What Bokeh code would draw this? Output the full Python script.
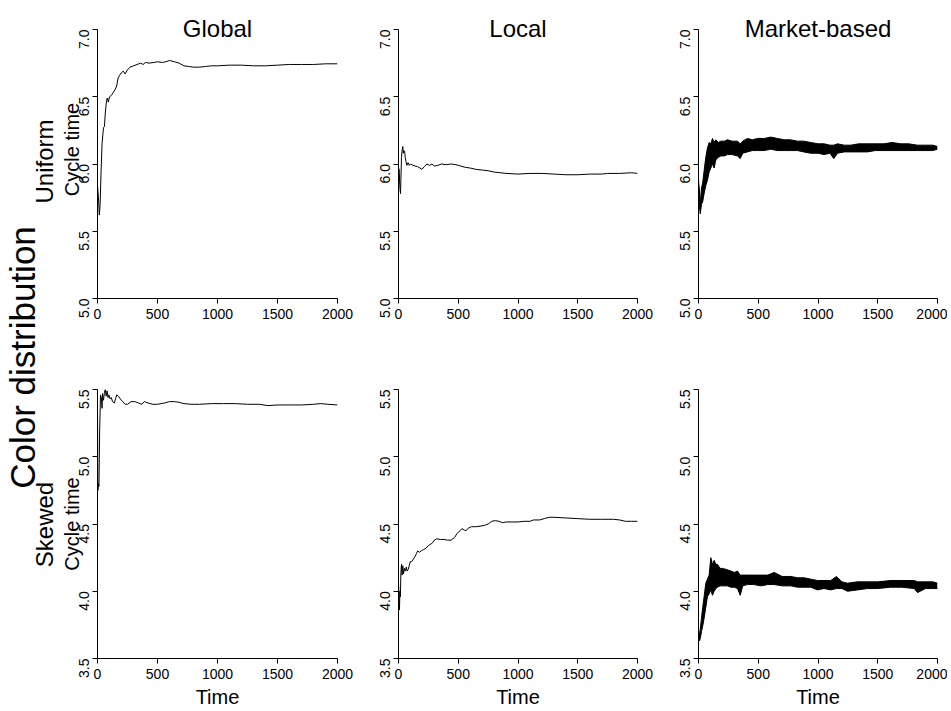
import math
from bokeh.plotting import figure
from bokeh.models import Range1d, FixedTicker, NumeralTickFormatter
from bokeh.layouts import row, column
from bokeh.core.properties import value
from bokeh.embed import file_html
from bokeh.resources import INLINE

FONT = "Liberation Sans"

col_titles = ["Global", "Local", "Market-based"]
row_titles = ["Uniform", "Skewed"]
outer_title = "Color distribution"
y_label = "Cycle time"
x_label = "Time"
x_ticks = [0, 500, 1000, 1500, 2000]
y_ticks_top = [5.0, 5.5, 6.0, 6.5, 7.0]
y_ticks_bottom = [3.5, 4.0, 4.5, 5.0, 5.5]

# Global / Uniform
gu_t = [0, 8, 15, 22, 30, 38, 45, 50, 58, 65, 75, 82, 90, 100, 115, 130, 145, 160, 172, 185,
        200, 215, 230, 250, 270, 300, 330, 360, 380, 400, 430, 470, 500, 540, 570, 600, 640,
        680, 720, 760, 800, 850, 900, 950, 1000, 1100, 1200, 1300, 1400, 1500, 1600, 1700,
        1800, 1900, 2000]
gu_v = [5.84, 5.75, 5.62, 5.70, 5.95, 6.15, 6.22, 6.27, 6.28, 6.38, 6.47, 6.49, 6.46, 6.50,
        6.51, 6.53, 6.55, 6.58, 6.64, 6.66, 6.68, 6.69, 6.67, 6.70, 6.72, 6.73, 6.74, 6.75,
        6.74, 6.755, 6.75, 6.755, 6.76, 6.755, 6.76, 6.77, 6.76, 6.75, 6.73, 6.725, 6.72,
        6.72, 6.725, 6.73, 6.73, 6.735, 6.735, 6.73, 6.73, 6.735, 6.74, 6.74, 6.74, 6.745,
        6.745]

# Global / Skewed
gs_t = [0, 3, 8, 12, 18, 25, 32, 38, 42, 50, 58, 65, 72, 80, 88, 95, 105, 115, 125, 140,
        150, 160, 175, 190, 210, 230, 250, 280, 310, 340, 370, 390, 420, 460, 500, 530, 560,
        600, 640, 680, 720, 780, 850, 950, 1050, 1150, 1250, 1350, 1420, 1500, 1600, 1700,
        1800, 1860, 1920, 2000]
gs_v = [5.35, 4.75, 4.80, 4.78, 5.20, 5.46, 5.44, 5.36, 5.47, 5.42, 5.48, 5.50, 5.45, 5.49,
        5.44, 5.46, 5.43, 5.44, 5.41, 5.40, 5.43, 5.46, 5.45, 5.43, 5.41, 5.39, 5.39, 5.41,
        5.41, 5.40, 5.39, 5.41, 5.40, 5.39, 5.39, 5.395, 5.40, 5.41, 5.41, 5.405, 5.395,
        5.39, 5.39, 5.395, 5.395, 5.395, 5.39, 5.39, 5.38, 5.385, 5.385, 5.385, 5.39,
        5.395, 5.39, 5.385]

# Local / Uniform
lu_t = [0, 6, 10, 14, 17, 20, 25, 30, 36, 40, 46, 52, 56, 62, 70, 80, 90, 100, 120, 140,
        160, 180, 196, 215, 238, 260, 280, 300, 330, 360, 400, 440, 480, 520, 560, 600, 650,
        700, 750, 800, 850, 900, 1000, 1100, 1200, 1300, 1400, 1500, 1600, 1700, 1750, 1850,
        1950, 2000]
lu_v = [5.97, 5.96, 5.85, 5.80, 5.78, 5.88, 6.05, 6.10, 6.13, 6.08, 6.10, 6.09, 6.05, 6.02,
        5.99, 6.01, 5.99, 6.00, 5.99, 5.985, 5.98, 5.97, 5.96, 5.98, 6.00, 5.99, 6.00, 5.985,
        5.99, 6.00, 5.995, 6.00, 5.995, 5.985, 5.975, 5.97, 5.96, 5.955, 5.95, 5.94, 5.935,
        5.93, 5.925, 5.93, 5.93, 5.925, 5.92, 5.92, 5.925, 5.925, 5.93, 5.93, 5.935, 5.93]

# Local / Skewed
ls_t = [0, 5, 8, 12, 16, 20, 25, 30, 36, 42, 50, 58, 65, 72, 80, 90, 98, 110, 125, 140,
        150, 160, 175, 190, 210, 230, 250, 270, 285, 300, 320, 350, 380, 410, 440, 470, 490,
        515, 530, 550, 565, 585, 610, 650, 690, 720, 750, 780, 810, 840, 870, 900, 950,
        1000, 1050, 1100, 1130, 1180, 1220, 1260, 1300, 1400, 1500, 1600, 1700, 1800, 1850,
        1900, 1950, 2000]
ls_v = [4.06, 3.95, 3.86, 4.00, 3.96, 4.14, 4.20, 4.12, 4.19, 4.13, 4.17, 4.15, 4.18, 4.15,
        4.16, 4.19, 4.22, 4.22, 4.24, 4.26, 4.28, 4.30, 4.29, 4.30, 4.31, 4.32, 4.34, 4.35,
        4.36, 4.38, 4.39, 4.385, 4.385, 4.38, 4.38, 4.40, 4.43, 4.45, 4.465, 4.455, 4.45,
        4.47, 4.48, 4.48, 4.485, 4.49, 4.50, 4.52, 4.525, 4.52, 4.51, 4.515, 4.515, 4.515,
        4.52, 4.52, 4.53, 4.53, 4.54, 4.55, 4.55, 4.545, 4.54, 4.535, 4.535, 4.535, 4.53,
        4.52, 4.52, 4.52]

# Market-based / Uniform (noisy band: upper and lower envelope)
mu_t = [0, 8, 15, 25, 35, 47, 61, 75, 89, 103, 117, 131, 145, 165, 187, 215, 243, 280, 326,
        349, 370, 410, 450, 494, 550, 605, 660, 717, 770, 828, 880, 940, 1000, 1051, 1100,
        1132, 1163, 1220, 1275, 1340, 1414, 1480, 1553, 1620, 1693, 1760, 1832, 1900, 1960,
        2000]
mu_hi = [5.88, 5.80, 5.70, 5.82, 5.86, 5.95, 6.05, 6.12, 6.16, 6.15, 6.19, 6.16, 6.18, 6.16,
         6.17, 6.17, 6.18, 6.17, 6.17, 6.15, 6.17, 6.19, 6.18, 6.19, 6.19, 6.20, 6.19, 6.18,
         6.18, 6.17, 6.17, 6.16, 6.15, 6.15, 6.14, 6.14, 6.15, 6.14, 6.14, 6.15, 6.15, 6.15,
         6.15, 6.16, 6.15, 6.15, 6.14, 6.14, 6.14, 6.13]
mu_lo = [5.84, 5.68, 5.63, 5.70, 5.72, 5.78, 5.84, 5.88, 5.94, 5.97, 6.00, 5.97, 6.03, 6.05,
         6.06, 6.06, 6.07, 6.07, 6.06, 6.04, 6.08, 6.09, 6.10, 6.10, 6.10, 6.11, 6.10, 6.10,
         6.10, 6.10, 6.09, 6.08, 6.08, 6.07, 6.08, 6.04, 6.08, 6.09, 6.09, 6.09, 6.09, 6.10,
         6.10, 6.10, 6.10, 6.10, 6.10, 6.10, 6.10, 6.11]

# Market-based / Skewed (noisy band: upper and lower envelope)
ms_t = [0, 8, 15, 25, 35, 47, 61, 75, 89, 103, 117, 131, 145, 159, 180, 201, 240, 271, 300,
        326, 349, 370, 410, 460, 522, 580, 633, 700, 773, 830, 884, 940, 996, 1050, 1107,
        1155, 1200, 1247, 1330, 1414, 1500, 1609, 1700, 1805, 1833, 1900, 1960, 2000]
ms_hi = [3.69, 3.68, 3.72, 3.80, 3.88, 3.96, 4.06, 4.09, 4.12, 4.25, 4.20, 4.23, 4.20, 4.20,
         4.17, 4.17, 4.16, 4.15, 4.14, 4.15, 4.12, 4.12, 4.12, 4.12, 4.12, 4.12, 4.14, 4.11,
         4.11, 4.10, 4.10, 4.09, 4.08, 4.08, 4.08, 4.11, 4.07, 4.06, 4.07, 4.07, 4.07, 4.08,
         4.08, 4.08, 4.07, 4.07, 4.07, 4.06]
ms_lo = [3.64, 3.63, 3.65, 3.70, 3.74, 3.80, 3.88, 3.96, 3.98, 4.01, 3.97, 4.00, 4.02, 4.03,
         4.04, 4.04, 4.04, 4.03, 4.03, 4.02, 3.97, 4.04, 4.05, 4.05, 4.04, 4.05, 4.05, 4.04,
         4.04, 4.03, 4.03, 4.03, 4.01, 4.02, 4.01, 4.02, 4.02, 4.00, 4.01, 4.02, 4.02, 4.03,
         4.03, 4.02, 3.99, 4.02, 4.02, 4.02]

# ---------------- layout (pixels) ----------------
STRIP_W = 57
FRAME_W = [240, 239, 239]
BL = [40, 31, 31]
BR = [30, 30, 10]
TITLE_H = 29                 # space above the top-row plotting area (inside the frame)
TOP_FH, TOP_BB = 269, 40
BOT_BT, BOT_FH, BOT_BB = 51, 270, 51
TOTAL_H = TITLE_H + TOP_FH + TOP_BB + BOT_BT + BOT_FH + BOT_BB
NOSHRINK = {"flex-shrink": "0"}


def style_axis(ax):
    ax.axis_line_color = "black"
    ax.axis_line_width = 1
    ax.major_tick_line_color = "black"
    ax.major_tick_out = 5
    ax.major_tick_in = 0
    ax.minor_tick_line_color = None
    ax.major_label_text_font = FONT
    ax.major_label_text_font_size = "14px"
    ax.major_label_text_color = "black"
    ax.major_label_standoff = 5
    ax.axis_label_text_font = FONT
    ax.axis_label_text_font_style = "normal"
    ax.axis_label_text_font_size = "20px"
    ax.axis_label_text_color = "black"


def make_panel(c, top):
    if top:
        y0, y1 = 5.0, 7.0
        yt = y_ticks_top
        ytop = y1 + (y1 - y0) * TITLE_H / TOP_FH
        fh, bt, bb = TOP_FH + TITLE_H, 0, TOP_BB
    else:
        y0, y1 = 3.5, 5.5
        yt = y_ticks_bottom
        ytop = y1
        fh, bt, bb = BOT_FH, BOT_BT, BOT_BB
    p = figure(width=BL[c] + FRAME_W[c] + BR[c], height=bt + fh + bb,
               x_range=Range1d(0, 2000), y_range=Range1d(y0, ytop),
               output_backend="svg", toolbar_location=None,
               min_border_left=BL[c], min_border_right=BR[c],
               min_border_top=bt, min_border_bottom=bb)
    p.styles = NOSHRINK
    p.outline_line_color = None
    p.xgrid.visible = False
    p.ygrid.visible = False
    p.background_fill_color = "white"
    p.border_fill_color = "white"
    style_axis(p.xaxis[0])
    style_axis(p.yaxis[0])
    p.xaxis[0].ticker = FixedTicker(ticks=x_ticks)
    p.yaxis[0].ticker = FixedTicker(ticks=yt)
    p.yaxis[0].bounds = (y0, y1)
    p.yaxis[0].formatter = NumeralTickFormatter(format="0.0")
    p.yaxis[0].major_label_orientation = math.pi / 2
    p.yaxis[0].major_label_standoff = 9
    if c == 0:
        p.yaxis[0].axis_label = y_label
        p.yaxis[0].axis_label_standoff = -12
    if top:
        p.text(x=[1000], y=[y1 + 0.008], text=[col_titles[c]], text_align="center",
               text_baseline="alphabetic", text_font=value(FONT),
               text_font_size=value("24px"), text_color="black")
    else:
        p.xaxis[0].axis_label = x_label
        p.xaxis[0].axis_label_standoff = 4
    return p


panels = {}
for r, top in enumerate([True, False]):
    for c in range(3):
        panels[(r, c)] = make_panel(c, top)

lines = {(0, 0): (gu_t, gu_v), (1, 0): (gs_t, gs_v),
         (0, 1): (lu_t, lu_v), (1, 1): (ls_t, ls_v)}
for key, (t, v) in lines.items():
    panels[key].line(t, v, line_color="black", line_width=1)

bands = {(0, 2): (mu_t, mu_lo, mu_hi), (1, 2): (ms_t, ms_lo, ms_hi)}
for key, (t, lo, hi) in bands.items():
    p = panels[key]
    p.varea(x=t, y1=lo, y2=hi, fill_color="black")
    p.line(t, lo, line_color="black", line_width=1)
    p.line(t, hi, line_color="black", line_width=1)

# left strip: row labels and outer label (pixel coordinates, y measured from bottom)
strip = figure(width=STRIP_W, height=TOTAL_H, x_range=Range1d(0, STRIP_W),
               y_range=Range1d(0, TOTAL_H), x_axis_type=None, y_axis_type=None,
               output_backend="svg", toolbar_location=None, min_border=0)
strip.styles = NOSHRINK
strip.outline_line_color = None
strip.background_fill_color = "white"
strip.border_fill_color = "white"

strip.text(x=[43.5, 43.5], y=[TOTAL_H - 161, TOTAL_H - 524], text=row_titles,
           angle=math.pi / 2, text_align="center", text_baseline="middle",
           text_font=value(FONT), text_font_size=value("24px"), text_color="black")
strip.text(x=[22], y=[TOTAL_H - 357], text=[outer_title], angle=math.pi / 2,
           text_align="center", text_baseline="middle", text_font=value(FONT),
           text_font_size=value("35px"), text_color="black")

r1 = row(panels[(0, 0)], panels[(0, 1)], panels[(0, 2)])
r2 = row(panels[(1, 0)], panels[(1, 1)], panels[(1, 2)])
grid = column(r1, r2)
grid.styles = NOSHRINK
layout = row(strip, grid)

open("out.html", "w").write(file_html(layout, INLINE))
